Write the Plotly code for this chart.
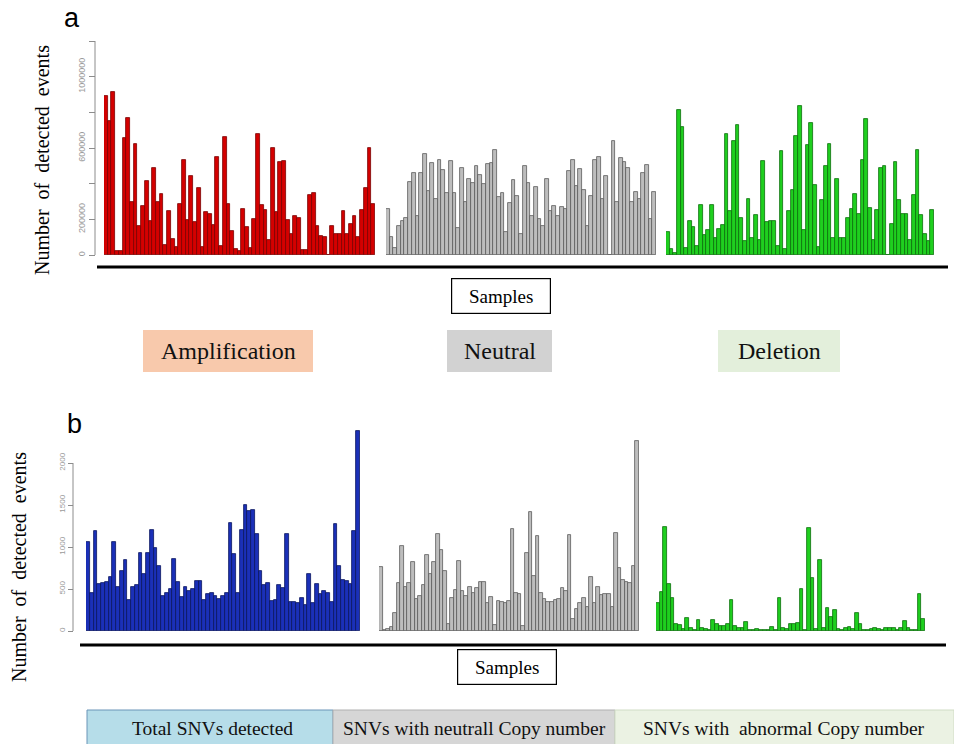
import plotly.graph_objects as go

W, H = 954, 744

# ---------------- data ----------------
samples = [f"S{i+1}" for i in range(73)]

amplification = [890000, 750000, 915000, 20000, 20000, 655000, 770000, 295000, 620000, 165000,
                 275000, 415000, 190000, 490000, 300000, 340000, 55000, 245000, 90000, 45000,
                 285000, 530000, 195000, 445000, 185000, 375000, 45000, 240000, 230000, 170000,
                 550000, 50000, 660000, 285000, 135000, 35000, 25000, 260000, 155000, 40000,
                 200000, 680000, 280000, 250000, 85000, 600000, 240000, 520000, 525000, 195000,
                 115000, 220000, 205000, 30000, 28000, 335000, 345000, 160000, 105000, 100000,
                 0, 165000, 120000, 115000, 245000, 115000, 175000, 220000, 100000, 250000,
                 375000, 600000, 285000]

neutral_a = [258000, 103000, 37000, 160000, 192000, 210000, 410000, 460000, 220000, 460000,
             565000, 360000, 515000, 315000, 530000, 475000, 350000, 525000, 350000, 150000,
             490000, 297000, 425000, 405000, 500000, 450000, 400000, 510000, 515000, 590000,
             325000, 350000, 130000, 290000, 420000, 330000, 120000, 500000, 405000, 220000,
             380000, 200000, 160000, 425000, 245000, 275000, 220000, 270000, 260000, 470000,
             535000, 385000, 480000, 365000, 163000, 330000, 530000, 548000, 315000, 443000,
             0, 640000, 300000, 545000, 520000, 490000, 300000, 355000, 315000, 460000,
             505000, 200000, 355000]

deletion = [130000, 32000, 10000, 815000, 720000, 42000, 190000, 155000, 48000, 280000,
            110000, 138000, 280000, 97000, 145000, 168000, 680000, 245000, 640000, 730000,
            205000, 80000, 313000, 97000, 222000, 82000, 527000, 187000, 190000, 190000,
            50000, 585000, 32000, 245000, 365000, 665000, 835000, 140000, 615000, 740000,
            395000, 45000, 310000, 500000, 625000, 95000, 425000, 95000, 95000, 205000,
            260000, 340000, 230000, 535000, 765000, 265000, 82000, 250000, 490000, 500000,
            0, 175000, 520000, 310000, 230000, 230000, 82000, 335000, 590000, 225000,
            120000, 77000, 250000]

total_snv = [1063, 450, 1190, 555, 570, 585, 640, 1063, 520, 715,
             845, 375, 520, 550, 930, 680, 930, 1200, 990, 770,
             420, 455, 505, 855, 585, 400, 520, 480, 505, 600,
             590, 365, 440, 450, 420, 380, 420, 450, 1290, 915,
             455, 1200, 1500, 1430, 1435, 1160, 720, 545, 570, 355,
             375, 545, 510, 1160, 340, 340, 330, 395, 310, 675,
             335, 560, 435, 480, 450, 340, 1270, 770, 605, 590,
             565, 1190, 2380]

neutral_snv = [765, 12, 20, 50, 220, 575, 1010, 520, 575, 825,
               385, 415, 548, 905, 680, 825, 1150, 960, 715, 80,
               393, 488, 833, 480, 415, 528, 456, 508, 587, 587,
               337, 409, 71, 357, 349, 337, 357, 1210, 448, 437,
               63, 925, 1420, 659, 1130, 456, 381, 349, 349, 369,
               381, 508, 476, 1143, 143, 258, 337, 389, 282, 639,
               337, 528, 429, 440, 440, 290, 1170, 746, 607, 579,
               567, 778, 2260]

abnormal_snv = [337, 464, 1238, 556, 389, 79, 71, 20, 151, 40,
                12, 127, 32, 20, 8, 127, 79, 60, 60, 79,
                365, 60, 32, 40, 111, 8, 12, 20, 8, 12,
                16, 48, 16, 397, 40, 20, 87, 87, 99, 496,
                8, 1230, 627, 28, 841, 40, 278, 171, 246, 20,
                8, 40, 48, 28, 210, 87, 8, 8, 20, 40,
                20, 8, 40, 32, 40, 8, 40, 119, 40, 8,
                8, 437, 139]

ticks_a = [0, 200000, 400000, 600000, 800000, 1000000, 1200000]
ticktext_a = ["0", "200000", "", "600000", "", "1000000", ""]
ticks_b = [0, 500, 1000, 1500, 2000]
ticktext_b = ["0", "500", "1000", "1500", "2000"]

labels_a = ["Amplification", "Neutral", "Deletion"]
labels_b = ["Total SNVs detected", "SNVs with neutrall Copy number", "SNVs with  abnormal Copy number"]
ytitle = "Number  of  detected  events"


def px(x):
    return x / W


def py(y):
    return 1 - y / H


SERIF = "Liberation Serif, Times New Roman, serif"
SANS = "Liberation Sans, Arial, sans-serif"

fig = go.Figure()

groups = [
    (amplification, "x", "y", "#d40000", "#7a0000"),
    (neutral_a, "x2", "y", "#bdbdbd", "#5a5a5a"),
    (deletion, "x3", "y", "#1fcf1f", "#0b6e0b"),
    (total_snv, "x4", "y2", "#1b30b8", "#0a1560"),
    (neutral_snv, "x5", "y2", "#bdbdbd", "#5a5a5a"),
    (abnormal_snv, "x6", "y2", "#1fcf1f", "#0b6e0b"),
]
for vals, xa, ya, fill, edge in groups:
    fig.add_trace(go.Bar(x=list(range(len(samples))), y=vals, xaxis=xa, yaxis=ya,
                         marker=dict(color=fill, line=dict(color=edge, width=0.8)),
                         showlegend=False, hoverinfo="skip"))

# x-axis domains (pixel extents of each bar group)
xdoms = [(104, 375), (386, 656), (666, 934), (86, 360), (379, 639), (656, 925)]
layout_x = {}
for i, (a, b) in enumerate(xdoms):
    key = "xaxis" if i == 0 else f"xaxis{i+1}"
    layout_x[key] = dict(domain=[px(a), px(b)], range=[-0.5, 72.5], visible=False,
                         anchor="y" if i < 3 else "y2", fixedrange=True)

fig.update_layout(
    width=W, height=H,
    margin=dict(l=0, r=0, t=0, b=0),
    paper_bgcolor="white", plot_bgcolor="rgba(0,0,0,0)",
    bargap=0,
    yaxis=dict(domain=[py(255), py(41)], range=[0, 1200000], anchor="free", position=px(95),
               tickvals=ticks_a, ticktext=ticktext_a, tickangle=-90,
               ticks="outside", ticklen=6, tickcolor="#8c8c8c", showline=False,
               showgrid=False, zeroline=False,
               tickfont=dict(family=SANS, size=9, color="#9a9a9a")),
    yaxis2=dict(domain=[py(631), py(421)], range=[0, 2500], anchor="free", position=px(73),
                tickvals=ticks_b, ticktext=ticktext_b, tickangle=-90,
                ticks="outside", ticklen=5, tickcolor="#8c8c8c", showline=False,
                showgrid=False, zeroline=False,
                tickfont=dict(family=SANS, size=8, color="#9a9a9a")),
    **layout_x,
)

shapes = []
# y axis lines (R style, from first to last tick)
shapes.append(dict(type="line", xref="paper", yref="y", x0=px(95), x1=px(95), y0=0, y1=1200000,
                   line=dict(color="#8c8c8c", width=1)))
shapes.append(dict(type="line", xref="paper", yref="y2", x0=px(73), x1=px(73), y0=0, y1=2000,
                   line=dict(color="#8c8c8c", width=1)))
# thick baselines
shapes.append(dict(type="line", xref="paper", yref="paper", x0=px(97), x1=px(948), y0=py(267), y1=py(267),
                   line=dict(color="black", width=3)))
shapes.append(dict(type="line", xref="paper", yref="paper", x0=px(80), x1=px(946), y0=py(645), y1=py(645),
                   line=dict(color="black", width=3)))
# category boxes panel a
boxes_a = [(143, 313, "#f8c9ac"), (447, 552, "#d2d2d2"), (718, 840, "#e3efdb")]
for (a, b, c) in boxes_a:
    shapes.append(dict(type="rect", xref="paper", yref="paper", x0=px(a), x1=px(b), y0=py(372), y1=py(330),
                       fillcolor=c, line=dict(width=0), layer="below"))
# category boxes panel b
boxes_b = [(87, 333, "#b6dde9", "#6a95b8"), (333, 615, "#d6d6d6", "#b0b0b0"), (615, 954, "#ebf2e3", "#d0dcc5")]
for (a, b, c, lc) in boxes_b:
    shapes.append(dict(type="rect", xref="paper", yref="paper", x0=px(a), x1=px(b), y0=py(746), y1=py(710),
                       fillcolor=c, line=dict(width=1, color=lc), layer="below"))

annotations = []


def ann(text, x, y, **kw):
    d = dict(text=text, x=px(x), y=py(y), xref="paper", yref="paper", showarrow=False,
             xanchor="center", yanchor="middle")
    d.update(kw)
    annotations.append(d)


ann("a", 72, 18, font=dict(family=SANS, size=27, color="black"))
ann("b", 74, 424, font=dict(family=SANS, size=27, color="black"))
ann(ytitle, 42, 160, textangle=-90, font=dict(family=SERIF, size=20, color="black"))
ann(ytitle, 19, 567, textangle=-90, font=dict(family=SERIF, size=20, color="black"))
# Samples boxes
for cx, cy in [(501, 296), (507, 667)]:
    ann("Samples", cx, cy, width=96, height=32, bordercolor="black", borderwidth=1.2, bgcolor="white",
        font=dict(family=SERIF, size=19, color="black"))
for (a, b, c), t in zip(boxes_a, labels_a):
    ann(t, (a + b) / 2, 351, font=dict(family=SERIF, size=24, color="#111"))
for t, cx in zip(labels_b, [212, 474, 784]):
    ann(t, cx, 728, font=dict(family=SERIF, size=19.5, color="#111"))

fig.update_layout(shapes=shapes, annotations=annotations)
fig.write_html("out.html", config={"displayModeBar": False},
               post_script="document.body.style.margin='0';document.body.style.padding='0';")
